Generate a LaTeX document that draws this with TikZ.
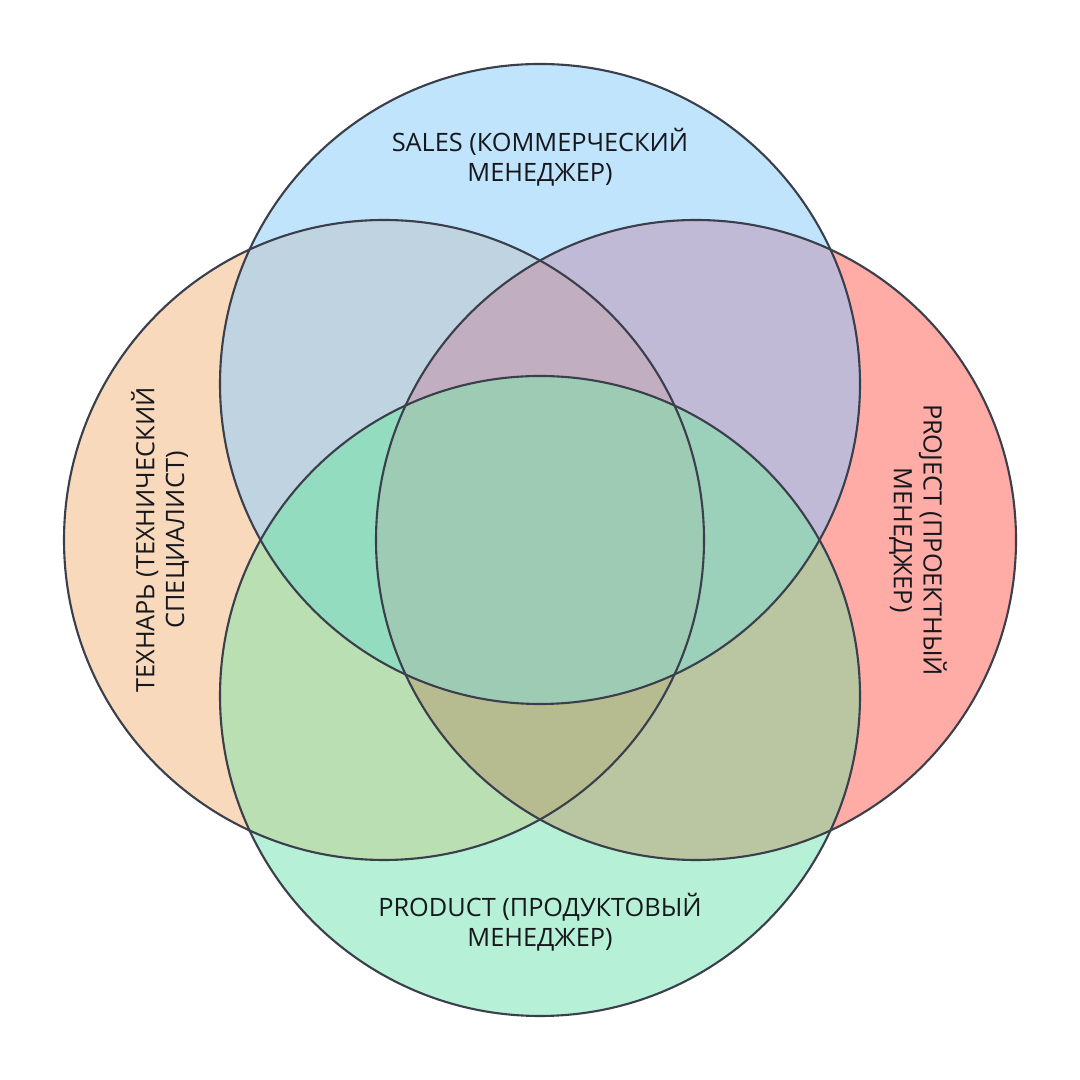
\documentclass[tikz,border=0pt]{standalone}
\usepackage{fontspec}
\setmainfont{Open Sans}
\usepackage{tikz}
\usetikzlibrary{positioning}
\definecolor{salesc}{HTML}{C0E4FC}
\definecolor{techc}{HTML}{F9D9BC}
\definecolor{projc}{HTML}{FFABA6}
\definecolor{prodc}{HTML}{B6F0D6}
\definecolor{stc}{HTML}{C0D3E0}
\definecolor{spc}{HTML}{C0BAD6}
\definecolor{tdc}{HTML}{B9DFB2}
\definecolor{pdc}{HTML}{BAC6A1}
\definecolor{stpc}{HTML}{C1AFC1}
\definecolor{stdc}{HTML}{94DCC0}
\definecolor{spdc}{HTML}{9BD0BA}
\definecolor{tpdc}{HTML}{B7BC90}
\definecolor{allc}{HTML}{9ECBB4}
\definecolor{ringc}{HTML}{3A3F4B}
\definecolor{inkc}{HTML}{16181D}

\begin{document}
\begin{tikzpicture}[
    ring/.style={draw=ringc, line width=0.6pt},
    venntext/.style={align=center, text=inkc, font=\fontsize{7.2}{8.5}\selectfont}
  ]
    \useasboundingbox (0,0) rectangle (10.8,10.8);
    \fill[white] (0,0) rectangle (10.8,10.8);

    % Centres of the four circles
    \coordinate (sales) at (5.4,6.96);
    \coordinate (tech) at (3.84,5.4);
    \coordinate (proj) at (6.96,5.4);
    \coordinate (prod) at (5.4,3.84);

    % Single circles
    \foreach \c/\col in {sales/salesc, tech/techc, proj/projc, prod/prodc}
        \fill[\col] (\c) circle (3.2);

    % Overlaps of two
    \foreach \a/\b/\col in {sales/tech/stc, sales/proj/spc, tech/prod/tdc, proj/prod/pdc} {
        \begin{scope}
            \clip (\a) circle (3.2);
            \fill[\col] (\b) circle (3.2);
        \end{scope}
    }

    % Overlaps of three
    \foreach \a/\b/\c/\col in {sales/tech/proj/stpc, sales/tech/prod/stdc, sales/proj/prod/spdc, tech/proj/prod/tpdc} {
        \begin{scope}
            \clip (\a) circle (3.2);
            \clip (\b) circle (3.2);
            \fill[\col] (\c) circle (3.2);
        \end{scope}
    }

    % All four
    \begin{scope}
        \clip (sales) circle (3.2);
        \clip (tech) circle (3.2);
        \clip (proj) circle (3.2);
        \fill[allc] (prod) circle (3.2);
    \end{scope}

    % Outlines
    \foreach \c in {sales, tech, proj, prod}
        \draw[ring] (\c) circle (3.2);

    % Labels
    \node[venntext] (salesl) at (5.4,9.23) {SALES (КОММЕРЧЕСКИЙ\\МЕНЕДЖЕР)};
    \node[venntext, rotate=90] (techl) at (1.6,5.4) {ТЕХНАРЬ (ТЕХНИЧЕСКИЙ\\СПЕЦИАЛИСТ)};
    \node[venntext, rotate=-90] (projl) at (9.18,5.4) {PROJECT (ПРОЕКТНЫЙ\\МЕНЕДЖЕР)};
    \node[venntext] (prodl) at (5.4,1.58) {PRODUCT (ПРОДУКТОВЫЙ\\МЕНЕДЖЕР)};
\end{tikzpicture}
\end{document}
